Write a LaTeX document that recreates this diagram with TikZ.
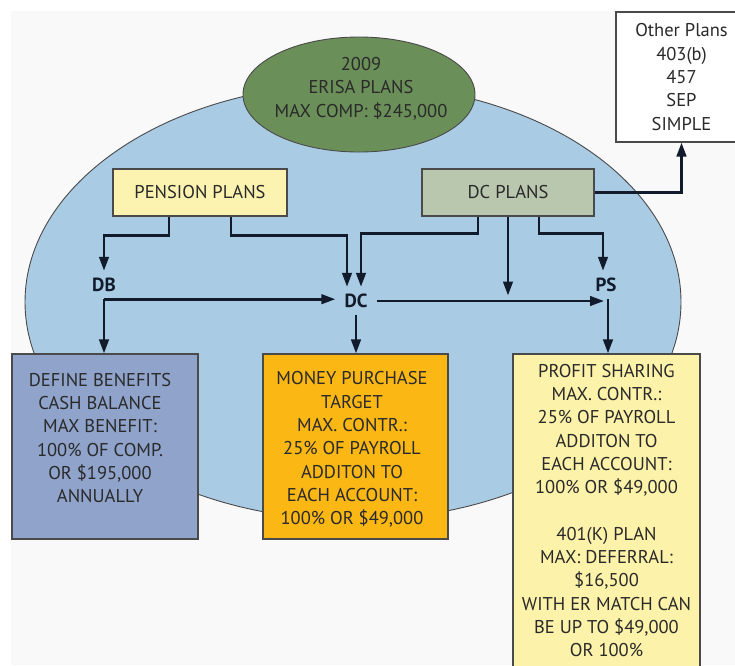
\documentclass[tikz,border=0pt]{standalone}
\usepackage{fontspec}
\setmainfont{PT Sans}
\usetikzlibrary{arrows.meta,shapes.geometric,calc}
\definecolor{bgc}{HTML}{F9F9F9}
\definecolor{ellblue}{HTML}{A9CBE3}
\definecolor{ellgreen}{HTML}{6B8F59}
\definecolor{penyel}{HTML}{FCF3B0}
\definecolor{dcgreen}{HTML}{BAC7AF}
\definecolor{dbblue}{HTML}{8FA3CB}
\definecolor{mporange}{HTML}{FBB714}
\definecolor{psyel}{HTML}{FCF2A9}
\definecolor{linec}{HTML}{121B2B}
\definecolor{edgec}{HTML}{4A4A4A}
\definecolor{txtc}{HTML}{2A2A2A}
\begin{document}
\begin{tikzpicture}[x=1pt,y=-1pt,
  txt/.style={text=txtc, align=center, font=\fontsize{18.5}{23.3}\selectfont, inner sep=0pt},
  box/.style={draw=edgec, line width=1.1pt, text=txtc, align=center, font=\fontsize{18.5}{23.3}\selectfont, inner sep=0pt},
  lab/.style={text=linec, font=\fontsize{19}{22}\selectfont\bfseries, text height=13pt, text depth=0pt, inner ysep=7.5pt, inner xsep=9pt},
  conn/.style={draw=linec, line width=2.7pt, -{Triangle[length=14pt,width=9.5pt]}}
]
\clip (0,0) rectangle (735,665);
\fill[white] (0,0) rectangle (735,665);
\fill[bgc] (11,11) rectangle (735,665);
% big ERISA ellipse
\draw[draw=edgec, line width=0.9pt, fill=ellblue] (353,302) ellipse [x radius=328, y radius=218];
\node[ellipse, draw=edgec, line width=0.9pt, fill=ellgreen, minimum width=232pt, minimum height=115pt, inner sep=0pt] (erisa) at (359,94.5) {};
\node[txt] (erisatext) at (361,88.5) {2009\\ERISA PLANS\\MAX COMP: \$245,000};
% boxes
\node[box, fill=white, minimum width=131pt, minimum height=130pt] (other) at (681.5,77) {Other Plans\\403(b)\\457\\SEP\\SIMPLE};
\node[box, fill=penyel, minimum width=174pt, minimum height=47pt] (pension) at (200,192.5) {PENSION PLANS};
\node[box, fill=dcgreen, minimum width=172pt, minimum height=47pt] (dcplans) at (508,192.5) {DC PLANS};
\node[box, fill=dbblue, minimum width=186pt, minimum height=185pt] (dbbox) at (105,446.5) {};
\node[txt] (dbtext) at (100,438) {DEFINE BENEFITS\\CASH BALANCE\\MAX BENEFIT:\\100\% OF COMP.\\OR \$195,000\\ANNUALLY};
\node[box, fill=mporange, minimum width=185pt, minimum height=185pt] (mpbox) at (355.5,446.5) {};
\node[txt] (mptext) at (352,449.5) {MONEY PURCHASE\\TARGET\\MAX. CONTR.:\\25\% OF PAYROLL\\ADDITON TO\\EACH ACCOUNT:\\100\% OR \$49,000};
\node[box, fill=psyel, minimum width=187pt, minimum height=313pt] (psbox) at (606.5,510.5) {PROFIT SHARING\\MAX. CONTR.:\\25\% OF PAYROLL\\ADDITON TO\\EACH ACCOUNT:\\100\% OR \$49,000\\[23.3pt]401(K) PLAN\\MAX: DEFERRAL:\\\$16,500\\WITH ER MATCH CAN\\BE UP TO \$49,000\\OR 100\%};
% labels
\node[lab] (DB) at (104,285) {DB};
\node[lab] (DC) at (356,301) {DC};
\node[lab] (PS) at (606,285) {PS};
% connectors
\draw[conn] ([xshift=-31pt]pension.south) -- ++(0,19) -| (DB.north);
\draw[conn] ([xshift=31pt]pension.south) -- ++(0,19) -| ([xshift=-9pt]DC.north);
\draw[conn] ([xshift=-30pt]dcplans.south) -- ++(0,17) -| ([xshift=5pt]DC.north);
\draw[conn] (dcplans.south) -- ++(0,79);
\draw[conn] ([xshift=31pt]dcplans.south) -- ++(0,17) -| ([xshift=-3pt]PS.north);
\draw[conn] (dcplans.east) -| (other.south);
\draw[conn] (DB.south) -- (DB.south -| DC.west);
\draw[conn] (DB.south) -- (DB.south |- dbbox.north);
\draw[conn] (DC.south) -- (DC.south |- mpbox.north);
\draw[conn, shorten >=2pt] (DC.east) -- (DC.east -| PS.south);
\draw[conn] ([xshift=2pt]PS.south) -- ([xshift=2pt]PS.south |- psbox.north);
\end{tikzpicture}
\end{document}
